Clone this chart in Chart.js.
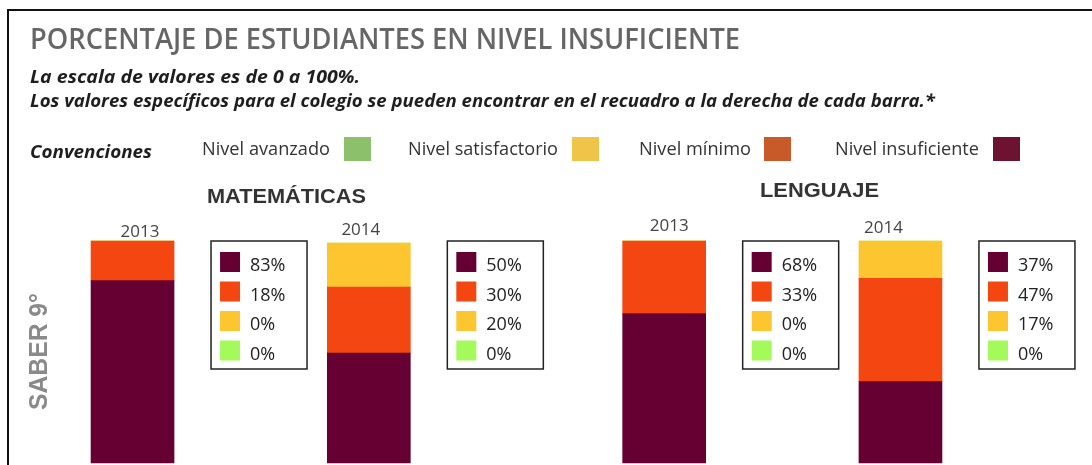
<!DOCTYPE html>
<html>
<head>
<meta charset="utf-8">
<script src="https://cdn.jsdelivr.net/npm/chart.js@4.4.1/dist/chart.umd.min.js"></script>
<style>
  html, body { margin: 0; padding: 0; background: #ffffff; }
  #wrap { width: 1092px; height: 465px; position: relative; }
</style>
</head>
<body>
<div id="wrap"><canvas id="c" width="1092" height="465"></canvas></div>
<script>
// ---------- DATA ----------
const titleText = 'PORCENTAJE DE ESTUDIANTES EN NIVEL INSUFICIENTE';
const subtitle1 = 'La escala de valores es de 0 a 100%.';
const subtitle2 = 'Los valores específicos para el colegio se pueden encontrar en el recuadro a la derecha de cada barra.*';
const conventionsLabel = 'Convenciones';
const levelNames = ['Nivel avanzado', 'Nivel satisfactorio', 'Nivel mínimo', 'Nivel insuficiente'];
const subjects = ['MATEMÁTICAS', 'LENGUAJE'];
const years = ['2013', '2014', '2013', '2014'];
const rowLabel = 'SABER 9°';
// values per bar (Matemáticas 2013, Matemáticas 2014, Lenguaje 2013, Lenguaje 2014)
const insuficiente = [83, 50, 68, 37];
const minimo = [18, 30, 33, 47];
const satisfactorio = [0, 20, 0, 17];
const avanzado = [0, 0, 0, 0];

// ---------- STYLE / LAYOUT ----------
const barColors = { ins: '#660033', min: '#F44611', sat: '#FDC52F', ava: '#A4FA5A' };
const conventionColors = ['#8DC06A', '#F0C448', '#C85A29', '#6E1232'];
const slots = [0, 4, 9, 13];           // category slot for each bar
const slotCount = 14;

function pad(arr) {
  const out = new Array(slotCount).fill(null);
  slots.forEach((s, i) => { out[s] = arr[i]; });
  return out;
}
const labels = new Array(slotCount).fill('');
slots.forEach((s, i) => { labels[s] = years[i]; });

function fitText(ctx, text, x, y, w) {
  const m = ctx.measureText(text).width;
  ctx.save();
  ctx.translate(x, y);
  ctx.scale(w / m, 1);
  ctx.textAlign = 'left';
  ctx.fillText(text, 0, 0);
  ctx.restore();
}

const decor = {
  id: 'decor',
  afterDraw(chart) {
    const ctx = chart.ctx;
    const xs = chart.scales.x;
    ctx.save();
    // outer frame
    ctx.fillStyle = '#111';
    ctx.fillRect(7, 9, 1085, 2);
    ctx.fillRect(7, 9, 2, 456);

    ctx.textBaseline = 'alphabetic';
    // title
    ctx.fillStyle = '#666666';
    ctx.font = '600 29px "Open Sans", sans-serif';
    fitText(ctx, titleText, 30, 49, 710);
    // subtitles
    ctx.fillStyle = '#1e1e1e';
    ctx.font = 'italic bold 17px "Open Sans", sans-serif';
    fitText(ctx, subtitle1, 30, 83, 330);
    fitText(ctx, subtitle2, 30, 107, 905);
    // conventions
    ctx.font = 'italic bold 18px "Open Sans", sans-serif';
    fitText(ctx, conventionsLabel, 30, 158, 122);
    ctx.font = '18px "Open Sans", sans-serif';
    const convText = [[202, 128], [408, 150], [639, 112], [835, 144]];
    const convSw = [344, 572, 764, 993];
    levelNames.forEach((n, i) => {
      ctx.fillStyle = '#333';
      fitText(ctx, n, convText[i][0], 155, convText[i][1]);
      ctx.fillStyle = conventionColors[i];
      ctx.fillRect(convSw[i], 137, 27, 24);
    });

    // subject titles
    ctx.fillStyle = '#333';
    ctx.font = 'bold 21px "Liberation Sans", Arial, sans-serif';
    fitText(ctx, subjects[0], 207, 203, 159);
    fitText(ctx, subjects[1], 760, 197, 119);

    // row label
    ctx.save();
    ctx.fillStyle = '#8a8a8a';
    ctx.font = 'bold 26px "Liberation Sans", Arial, sans-serif';
    ctx.translate(47, 410);
    ctx.rotate(-Math.PI / 2);
    fitText(ctx, rowLabel, 0, 0, 117);
    ctx.restore();

    // years + value boxes
    const yearDx = [7.5, -8, 5, -17];
    const yearY = [237, 235, 231, 233];
    const meta = chart.getDatasetMeta(0);
    slots.forEach((s, i) => {
      const cx = xs.getPixelForValue(s);
      ctx.font = '17px "Open Sans", sans-serif';
      ctx.fillStyle = '#444';
      ctx.textAlign = 'center';
      ctx.fillText(years[i], cx + yearDx[i], yearY[i]);

      const bar = meta.data[s];
      const right = bar.x + bar.width / 2;
      const bx = right + 37, by = 241, bw = 96, bh = 128;
      ctx.strokeStyle = '#222';
      ctx.lineWidth = 1.5;
      ctx.strokeRect(bx, by, bw, bh);
      const vals = [insuficiente[i], minimo[i], satisfactorio[i], avanzado[i]];
      const cols = [barColors.ins, barColors.min, barColors.sat, barColors.ava];
      vals.forEach((v, k) => {
        const sy = by + 11 + k * 29.5;
        ctx.fillStyle = cols[k];
        ctx.fillRect(bx + 9, sy, 20, 20);
        ctx.fillStyle = '#222';
        ctx.textAlign = 'left';
        ctx.font = '18px "Open Sans", sans-serif';
        ctx.fillText(v + '%', bx + 39, sy + 19);
      });
    });
    ctx.restore();
  }
};

new Chart(document.getElementById('c'), {
  type: 'bar',
  data: {
    labels: labels,
    datasets: [
      { label: levelNames[3], data: pad(insuficiente), backgroundColor: barColors.ins },
      { label: levelNames[2], data: pad(minimo), backgroundColor: barColors.min },
      { label: levelNames[1], data: pad(satisfactorio), backgroundColor: barColors.sat },
      { label: levelNames[0], data: pad(avanzado), backgroundColor: barColors.ava }
    ]
  },
  options: {
    responsive: false,
    devicePixelRatio: 1,
    animation: false,
    layout: { padding: { left: 103, right: 162, top: 241, bottom: 2 } },
    datasets: { bar: { barThickness: 83, borderWidth: 0, skipNull: true, clip: false } },
    scales: {
      x: { stacked: true, display: false, offset: true },
      y: { stacked: true, display: false, min: 0, max: 101 }
    },
    plugins: { legend: { display: false }, tooltip: { enabled: false } }
  },
  plugins: [decor]
});
</script>
</body>
</html>
